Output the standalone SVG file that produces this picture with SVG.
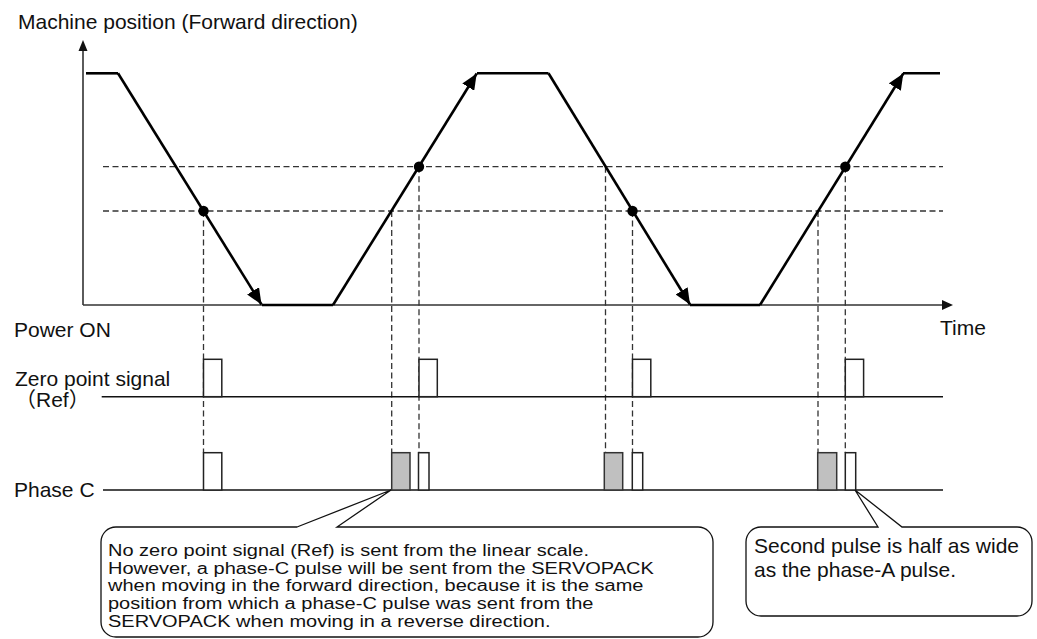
<svg xmlns="http://www.w3.org/2000/svg" width="1037" height="639" viewBox="0 0 1037 639">
<style>
text{font-family:"Liberation Sans","Noto Sans CJK JP",Arial,sans-serif;fill:#111;font-size:21px}
.small{font-size:20px}
.axis{stroke:#333;stroke-width:1.6;fill:none}
.curve{stroke:#000;stroke-width:2.6;fill:none;stroke-linejoin:miter}
.dash{stroke:#333;stroke-width:1.3;stroke-dasharray:6 3.5;fill:none}
.base{stroke:#111;stroke-width:1.4;fill:none}
.pw{fill:#fff;stroke:#222;stroke-width:1.5}
.pg{fill:#c0c0c0;stroke:#333;stroke-width:1.5}
.callout{fill:#fff;stroke:#111;stroke-width:1.3}
</style>
<defs>
<marker id="ah" viewBox="0 0 16 14" refX="16" refY="7" markerWidth="16" markerHeight="14" markerUnits="userSpaceOnUse" orient="auto">
<path d="M0,0 L16,7 L0,14 Z" fill="#000"/>
</marker>
</defs>

<g id="axes">
<line class="axis" x1="83" y1="305" x2="83" y2="48"/>
<polygon points="83,40 78.5,51 87.5,51" fill="#111"/>
<line class="axis" x1="83" y1="305" x2="943" y2="305"/>
<polygon points="953,305 942,300 942,310" fill="#111"/>
</g>

<g id="guides">
<line class="dash" x1="103" y1="166.7" x2="943" y2="166.7"/>
<line class="dash" x1="103" y1="211" x2="943" y2="211"/>
<line class="dash" x1="203.5" y1="211" x2="203.5" y2="452.7"/>
<line class="dash" x1="391.7" y1="211" x2="391.7" y2="452.7"/>
<line class="dash" x1="419" y1="166.7" x2="419" y2="452.7"/>
<line class="dash" x1="605.5" y1="166.7" x2="605.5" y2="452.7"/>
<line class="dash" x1="632.5" y1="211" x2="632.5" y2="452.7"/>
<line class="dash" x1="818" y1="211" x2="818" y2="452.7"/>
<line class="dash" x1="845.3" y1="166.7" x2="845.3" y2="452.7"/>
</g>

<g id="position-curve">
<line class="curve" x1="86" y1="73.3" x2="118" y2="73.3"/>
<path class="curve" d="M118,73.3 L261.5,304.5" marker-end="url(#ah)"/>
<line class="curve" x1="262" y1="305" x2="333" y2="305"/>
<path class="curve" d="M333,305 L476.7,73.5" marker-end="url(#ah)"/>
<line class="curve" x1="477" y1="73.3" x2="548.5" y2="73.3"/>
<path class="curve" d="M548.5,73.3 L690,304.5" marker-end="url(#ah)"/>
<line class="curve" x1="690" y1="305" x2="760" y2="305"/>
<path class="curve" d="M760,305 L903.3,73.5" marker-end="url(#ah)"/>
<line class="curve" x1="903" y1="73.3" x2="940" y2="73.3"/>
<circle cx="203.5" cy="211" r="5.2" fill="#000"/>
<circle cx="419" cy="166.7" r="5.2" fill="#000"/>
<circle cx="632.5" cy="211" r="5.2" fill="#000"/>
<circle cx="845.3" cy="166.7" r="5.2" fill="#000"/>
</g>

<g id="zero-point-signal">
<line class="base" x1="101.7" y1="396.7" x2="943" y2="396.7"/>
<rect class="pw" x="203.5" y="359.3" width="18.3" height="37.4"/>
<rect class="pw" x="419" y="359.3" width="18.3" height="37.4"/>
<rect class="pw" x="632.5" y="359.3" width="18.3" height="37.4"/>
<rect class="pw" x="845.3" y="359.3" width="18.3" height="37.4"/>
</g>

<g id="phase-c">
<line class="base" x1="103" y1="490" x2="943" y2="490"/>
<rect class="pw" x="203.5" y="452.7" width="18.3" height="37.3"/>
<rect class="pg" x="391.7" y="452.7" width="18.3" height="37.3"/>
<rect class="pw" x="418.5" y="452.7" width="10.5" height="37.3"/>
<rect class="pg" x="604.3" y="452.7" width="18.4" height="37.3"/>
<rect class="pw" x="632.3" y="452.7" width="10.4" height="37.3"/>
<rect class="pg" x="817.7" y="452.7" width="19" height="37.3"/>
<rect class="pw" x="845.3" y="452.7" width="10.4" height="37.3"/>
</g>

<g id="labels">
<text x="18" y="29">Machine position (Forward direction)</text>
<text x="14" y="336.5">Power ON</text>
<text x="940" y="335">Time</text>
<text x="15" y="386">Zero point signal</text>
<text x="15" y="407">（Ref）</text>
<text x="14" y="497">Phase C</text>
</g>

<g id="callout-left">
<path class="callout" d="M297,527 L391,490 L337,527 L698,527 A15,15 0 0 1 713,542 L713,622 A15,15 0 0 1 698,637 L116,637 A15,15 0 0 1 101,622 L101,542 A15,15 0 0 1 116,527 Z"/>
<text class="small" transform="translate(108,556) scale(1,0.78)"><tspan x="0" y="0">No zero point signal (Ref) is sent from the linear scale.</tspan><tspan x="0" y="22.69">However, a phase-C pulse will be sent from the SERVOPACK</tspan><tspan x="0" y="45.38">when moving in the forward direction, because it is the same</tspan><tspan x="0" y="67.95">position from which a phase-C pulse was sent from the</tspan><tspan x="0" y="90.51">SERVOPACK when moving in a reverse direction.</tspan></text>
</g>

<g id="callout-right">
<path class="callout" d="M878,527 L855,490 L902,527 L1017,527 A15,15 0 0 1 1032,542 L1032,601 A15,15 0 0 1 1017,616 L761,616 A15,15 0 0 1 746,601 L746,542 A15,15 0 0 1 761,527 Z"/>
<text x="754" y="553">Second pulse is half as wide</text>
<text x="754" y="577">as the phase-A pulse.</text>
</g>
</svg>
